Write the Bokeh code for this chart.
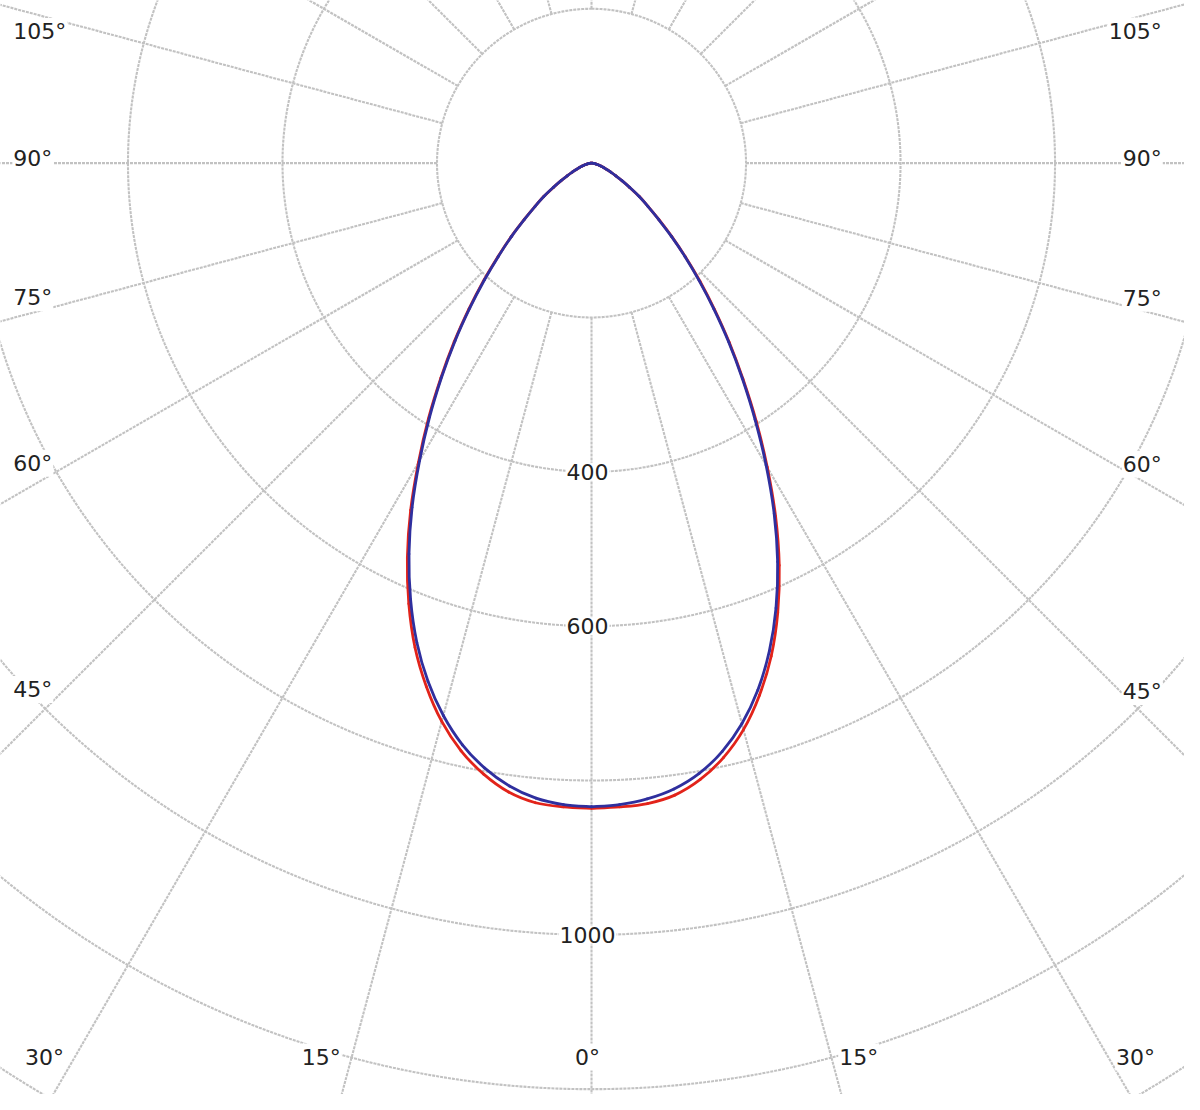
import numpy as np
from bokeh.plotting import figure
from bokeh.models import Range1d, Label
from bokeh.embed import file_html
from bokeh.resources import INLINE

# ---------------- data ----------------
angles = [0, 2.5, 5, 7.5, 10, 12.5, 15, 17.5, 20, 22.5, 25, 27.5, 30, 32.5, 35, 37.5,
          40, 42.5, 45, 47.5, 50, 52.5, 55, 57.5, 60, 62.5, 65, 67.5, 70, 72.5, 75,
          77.5, 80, 82.5, 85, 87.5, 90]
# luminous intensity (cd), left half of the diagram
red_left = [836, 835, 832, 822, 804, 780, 749, 711, 668, 618, 564, 507, 448, 393, 340,
            292, 247, 207, 171, 141, 114, 92.5, 75.5, 58.5, 45.5, 35.5, 27.5, 21, 16.5,
            12.5, 9.5, 6.6, 5.2, 3.9, 2.6, 1.3, 0]
blue_left = [834, 832, 826, 814, 796, 772, 741, 704, 661, 612, 559, 503, 445, 390, 338,
             290, 245, 205, 170, 140, 113, 92, 75, 58.5, 45.5, 35.5, 27.5, 21, 16.5,
             12.5, 9.5, 6.6, 5.2, 3.9, 2.6, 1.3, 0]
# luminous intensity (cd), right half of the diagram
red_right = [836, 835, 833, 826, 811, 789, 760, 723, 680, 630, 575, 516, 455, 397, 342,
             293, 248, 208, 172, 141, 114, 92.5, 75.5, 58.5, 45.5, 35.5, 27.5, 21, 16.5,
             12.5, 9.5, 6.6, 5.2, 3.9, 2.6, 1.3, 0]
blue_right = [834, 832, 827, 818, 803, 781, 752, 716, 673, 624, 570, 512, 452, 394, 340,
              291, 246, 206, 171, 140, 113, 92, 75, 58.5, 45.5, 35.5, 27.5, 21, 16.5,
              12.5, 9.5, 6.6, 5.2, 3.9, 2.6, 1.3, 0]

ring_values = [200, 400, 600, 800, 1000, 1200, 1400, 1600, 1800]
ring_labels = [400, 600, 1000]
angle_ticks = [0, 15, 30, 45, 60, 75, 90, 105]
spoke_step = 15

# ---------------- layout ----------------
W, H = 1184, 1094          # figure size (page has 8px margin)
REF_W, REF_H = 1200, 1110  # extent of the reference picture shown in the figure
CX, CY = 599.0, 165.0      # polar origin in reference pixels
PX = 0.783                 # reference pixels per candela
TEXT_FONT = "DejaVu Sans"
TEXT_SIZE = "22px"
TEXT_COLOR = "#222222"
GRID_COLOR = "#c2c2c2"
RED, BLUE = "#e2231a", "#2f2f9e"


def pdx(px):
    return (px - CX) / PX


def pdy(py):
    return (CY - py) / PX


p = figure(width=W, height=H, output_backend="svg", toolbar_location=None,
           x_range=Range1d(pdx(0), pdx(REF_W)), y_range=Range1d(pdy(REF_H), pdy(0)),
           min_border=0, background_fill_color="white", border_fill_color="white")
p.axis.visible = False
p.grid.visible = False
p.outline_line_color = None

# ---------------- grid ----------------
t = np.linspace(0, 2 * np.pi, 721)
p.multi_line(xs=[list(r * np.sin(t)) for r in ring_values],
             ys=[list(r * np.cos(t)) for r in ring_values],
             line_color=GRID_COLOR, line_width=2.1, line_dash="3 1")

r0, r1 = ring_values[0], 2400
sx, sy = [], []
for side in (-1, 1):
    for a in range(0, 181, spoke_step):
        if side == -1 and a in (0, 180):
            continue
        th = np.radians(a)
        sx.append([side * r0 * np.sin(th), side * r1 * np.sin(th)])
        sy.append([-r0 * np.cos(th), -r1 * np.cos(th)])
p.multi_line(xs=sx, ys=sy, line_color=GRID_COLOR, line_width=2.1, line_dash="3 1")

# ---------------- curves (smooth Bezier segments through the data points) ----------------
th = np.radians(angles)


def draw_half(vals, side, col):
    v = np.asarray(vals, dtype=float)
    x = side * v * np.sin(th)
    y = -v * np.cos(th)
    xe = np.concatenate([[x[0]], x, [x[-1]]])
    ye = np.concatenate([[y[0]], y, [y[-1]]])
    n = len(x)
    x0, y0 = x[:-1], y[:-1]
    x1, y1 = x[1:], y[1:]
    cx0 = x0 + (xe[2:n + 1] - xe[0:n - 1]) / 6.0
    cy0 = y0 + (ye[2:n + 1] - ye[0:n - 1]) / 6.0
    cx1 = x1 - (xe[3:n + 2] - xe[1:n]) / 6.0
    cy1 = y1 - (ye[3:n + 2] - ye[1:n]) / 6.0
    p.bezier(x0=x0, y0=y0, x1=x1, y1=y1, cx0=cx0, cy0=cy0, cx1=cx1, cy1=cy1,
             line_color=col, line_width=2.8, line_cap="round")


draw_half(red_left, -1, RED)
draw_half(red_right, 1, RED)
draw_half(blue_left, -1, BLUE)
draw_half(blue_right, 1, BLUE)


# ---------------- labels ----------------
def add_label(x, y, text, align="center"):
    p.add_layout(Label(x=x, y=y, text=text, text_font=TEXT_FONT, text_font_size=TEXT_SIZE,
                       text_color=TEXT_COLOR, text_align=align, text_baseline="middle",
                       background_fill_color="white", background_fill_alpha=1.0,
                       padding=1))


for v in ring_labels:
    add_label(pdx(CX - 4), -v, str(v))

y_bottom = pdy(1072)
sides = ((-1, 56, 12, "left"), (1, 1144, 1178, "right"))
for a in angle_ticks:
    txt = f"{a}\u00b0"
    rad = np.radians(a)
    if a == 0:
        add_label(pdx(CX - 4), y_bottom, txt)
    elif a < 45:
        xc = abs(y_bottom) * np.tan(rad)
        add_label(-xc - 10 / PX, y_bottom, txt, align="right")
        add_label(xc + 7 / PX, y_bottom, txt, align="left")
    else:
        for side, x_in_px, x_edge_px, al in sides:
            x_in = abs(pdx(x_in_px))
            yc = -x_in * np.cos(rad) / np.sin(rad)
            if a < 90:
                y_lab = yc + 9 / PX
            elif a == 90:
                y_lab = 5 / PX
            else:
                y_lab = yc - 12 / PX
            add_label(pdx(x_edge_px), y_lab, txt, align=al)

open("out.html", "w").write(file_html(p, INLINE))
